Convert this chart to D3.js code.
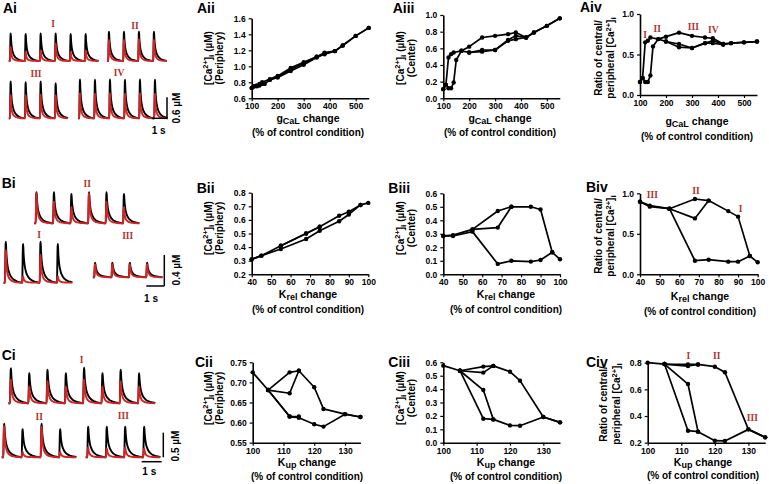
<!DOCTYPE html>
<html><head><meta charset="utf-8">
<script src="https://cdn.jsdelivr.net/npm/d3@7"></script>
<style>
html,body{margin:0;padding:0;background:#fff;}
svg{display:block;font-family:"Liberation Sans",Arial,sans-serif;}
</style></head><body>
<svg id="fig" width="769" height="484"></svg>
<script>
// ================= DATA =================
// Row A : g_CaL protocol (% of control condition)
const gcalUp   = [100,110,120,130,140,150,170,200,250,300,350,380,420,450,500,550];
const gcalDown = [550,500,450,420,380,350,300,250,200,170,140,130,120,110,100];
const gcalMid  = [200,250,300,350,380,420];
const periA_up   = [0.73,0.75,0.75,0.76,0.78,0.78,0.83,0.86,0.94,1.02,1.11,1.15,1.19,1.26,1.38,1.48];
const periA_down = [1.48,1.38,1.26,1.19,1.17,1.12,1.05,0.98,0.88,0.84,0.80,0.78,0.76,0.75,0.73];
const periA_mid  = [0.87,0.96,1.04,1.12,1.16,1.19];
const centA_up   = [0.11,0.16,0.12,0.12,0.19,0.46,0.57,0.55,0.56,0.58,0.69,0.71,0.73,0.79,0.87,0.96];
const centA_down = [0.96,0.87,0.79,0.73,0.79,0.77,0.75,0.73,0.62,0.57,0.55,0.53,0.49,0.16,0.11];
const centA_mid  = [0.55,0.58,0.58,0.70,0.75,0.73];
const ratioA_up   = [0.16,0.21,0.16,0.16,0.24,0.60,0.69,0.66,0.59,0.58,0.64,0.64,0.62,0.64,0.65,0.66];
const ratioA_down = [0.66,0.65,0.64,0.63,0.70,0.71,0.73,0.77,0.72,0.69,0.71,0.67,0.65,0.21,0.16];
const ratioA_mid  = [0.66,0.63,0.58,0.64,0.67,0.63];

// Row B : K_rel protocol
const krelDown = [100,96,90,85,75,68,55,45,40];
const krelUp   = [40,45,55,68,75,85,90,96];
const krelMid  = [55,68,75];
const periB_down = [0.725,0.71,0.66,0.63,0.55,0.50,0.41,0.337,0.31];
const periB_up   = [0.31,0.337,0.386,0.46,0.52,0.59,0.64,0.71];
const periB_mid  = [0.41,0.50,0.55];
const centB_down = [0.111,0.163,0.48,0.50,0.50,0.469,0.333,0.29,0.284];
const centB_up   = [0.284,0.284,0.316,0.077,0.10,0.094,0.106,0.163];
const centB_mid  = [0.333,0.346,0.50];
const ratioB_down = [0.148,0.226,0.712,0.78,0.91,0.93,0.81,0.848,0.897];
const ratioB_up   = [0.897,0.835,0.81,0.168,0.18,0.156,0.156,0.226];
const ratioB_mid  = [0.81,0.69,0.91];

// Row C : K_up protocol
const kupUp   = [100,105,112,115,120,123,130,135];
const kupDown = [135,130,123,120,115,112,105];
const kupMid1 = [105,112,115];
const kupMid2 = [105,112,115];
const periC_up   = [0.725,0.681,0.725,0.729,0.688,0.634,0.621,0.614];
const periC_down = [0.614,0.621,0.590,0.596,0.612,0.615,0.681];
const periC_mid1 = [0.681,0.673,0.729];
const periC_mid2 = [0.681,0.615,0.615];
const centC_up   = [0.575,0.537,0.568,0.573,0.530,0.463,0.192,0.152];
const centC_down = [0.152,0.192,0.127,0.129,0.174,0.179,0.537];
const centC_mid1 = [0.537,0.523,0.573];
const centC_mid2 = [0.537,0.393,0.174];
const ratioC_up   = [0.80,0.79,0.787,0.787,0.77,0.728,0.30,0.24];
const ratioC_down = [0.24,0.30,0.213,0.215,0.283,0.29,0.79];
const ratioC_mid1 = [0.79,0.775,0.787];
const ratioC_mid2 = [0.79,0.64,0.283];

// Tick labels
const ticksGcal = [100,200,300,400,500];
const ticksKrel = [40,50,60,70,80,90,100];
const ticksKup  = [100,110,120,130];
const ticksPeriA = [0.6,0.8,1.0,1.2,1.4,1.6];
const ticksCentA = [0.0,0.2,0.4,0.6,0.8,1.0];
const ticksRatioAB = [0.0,0.5,1.0];
const ticksPeriB = [0.2,0.3,0.4,0.5,0.6,0.7,0.8];
const ticksCentBC = [0.0,0.1,0.2,0.3,0.4,0.5,0.6];
const ticksPeriC = [0.55,0.60,0.65,0.70,0.75];
const ticksRatioC = [0.2,0.4,0.6,0.8];

// Calcium transients (one beat template, normalised) : time (s) and shape
const shapeT     = [0,0.015,0.035,0.05,0.07,0.10,0.14,0.20,0.28,0.38,0.50,0.65,0.82,1.0];
const shapeBlack = [0,0.45,0.95,1.0,0.78,0.58,0.42,0.29,0.19,0.12,0.07,0.035,0.012,0];
const shapeRed   = [0,0.50,0.97,1.0,0.68,0.45,0.29,0.17,0.10,0.055,0.028,0.011,0.004,0];
// beat onsets (s) and amplitudes (µM): black = periphery, red = center
const aI_beats = [0,1,2,3,4,5];          const aI_black = [0.79,0.77,0.79,0.79,0.77,0.77]; const aI_red = [0.40,0.25,0.30,0.50,0.25,0.30];
const aII_beats = [0,1,2,3];             const aII_black = [0.84,0.84,0.84,0.84];          const aII_red = [0.60,0.60,0.62,0.60];
const aIII_beats = [0,1,2,3];            const aIII_black = [1.05,1.03,1.05,1.0];          const aIII_red = [0.67,0.66,0.68,0.66];
const aIV_beats = [0,1,2,3,4,5];         const aIV_black = [1.11,1.10,1.11,1.10,1.11,1.10]; const aIV_red = [0.72,0.70,0.72,0.70,0.72,0.70];
const bII_beats = [0,0.97,1.94,2.92,3.89,4.86]; const bII_black = [0.40,0.40,0.38,0.40,0.40,0.38]; const bII_red = [0.39,0.28,0.21,0.39,0.28,0.21];
const bI_beats = [0,0.96,1.93,2.89];     const bI_black = [0.53,0.50,0.53,0.50];          const bI_red = [0.42,0.08,0.36,0.08];
const bIII_beats = [0,0.96,1.93,2.89];   const bIII_black = [0.19,0.19,0.19,0.19];        const bIII_red = [0.17,0.17,0.17,0.17];
const cI_beats = [0,0.92,1.83,2.75,3.66,4.58,5.49,6.41]; const cI_black = [0.71,0.61,0.68,0.61,0.72,0.61,0.68,0.61]; const cI_red = [0.48,0.34,0.45,0.34,0.48,0.34,0.45,0.34];
const cII_beats = [0,0.92,1.87,2.8];     const cII_black = [0.68,0.57,0.68,0.57];         const cII_red = [0.64,0.11,0.62,0.11];
const cIII_beats = [0,0.93,1.85,2.8];    const cIII_black = [0.62,0.62,0.62,0.62];        const cIII_red = [0.20,0.18,0.20,0.18];

// ================= DRAWING =================
const svg = d3.select("#fig");
const RED = "#d42323", LABRED = "#b5312d";

function yTitle(g, lines, xs, cy) {
  lines.forEach((ln, i) => {
    const t = g.append("text").attr("transform", `translate(${xs[i]},${cy}) rotate(-90)`)
      .attr("text-anchor", "middle").attr("font-size", 10).attr("font-weight", "bold");
    ln.forEach(seg => {
      const ts = t.append("tspan").text(seg.t);
      if (seg.s === "sup") ts.attr("dy", -3.5).attr("font-size", 7.5);
      if (seg.s === "back") ts.attr("dy", 3.5);
      if (seg.s === "sub") ts.attr("dy", 2).attr("font-size", 8);
      if (seg.s === "back2") ts.attr("dy", -2);
    });
  });
}
function xTitle(g, main, sub, rest, cx, y1, y2) {
  const t = g.append("text").attr("x", cx).attr("y", y1).attr("text-anchor", "middle")
    .attr("font-size", 10.5).attr("font-weight", "bold");
  t.append("tspan").text(main);
  t.append("tspan").text(sub).attr("dy", 2).attr("font-size", 9);
  t.append("tspan").text(rest).attr("dy", -2);
  g.append("text").attr("x", cx).attr("y", y2).attr("text-anchor", "middle")
    .attr("font-size", 10).attr("font-weight", "bold").text("(% of control condition)");
}

function linePanel(p) {
  const g = svg.append("g");
  const x = d3.scaleLinear().domain(p.xDomain).range(p.xRange);
  const y = d3.scaleLinear().domain(p.yDomain).range(p.yRange);
  const line = d3.line().x(d => x(d[0])).y(d => y(d[1]));
  p.series.forEach(s => {
    const pts = s[0].map((v, i) => [v, s[1][i]]);
    g.append("path").datum(pts).attr("d", line).attr("fill", "none")
      .attr("stroke", "#000").attr("stroke-width", 1.7).attr("stroke-linejoin", "round");
    g.selectAll(null).data(pts).enter().append("circle")
      .attr("cx", d => x(d[0])).attr("cy", d => y(d[1])).attr("r", 2.2).attr("fill", "#000");
  });
  const ax = g.append("g").attr("transform", `translate(0,${p.yRange[0]})`)
    .call(d3.axisBottom(x).tickValues(p.xTicks).tickSize(3).tickSizeOuter(0).tickPadding(2).tickFormat(d3.format("d")));
  const ay = g.append("g").attr("transform", `translate(${p.xRange[0]},0)`)
    .call(d3.axisLeft(y).tickValues(p.yTicks).tickSize(3).tickSizeOuter(0).tickPadding(3).tickFormat(d3.format(p.yFmt)));
  [ax, ay].forEach(a => {
    a.select(".domain").attr("stroke", "#000").attr("stroke-width", 1.6);
    a.selectAll(".tick line").attr("stroke", "#000").attr("stroke-width", 1.2);
    a.selectAll(".tick text").attr("font-size", 8.5).attr("font-weight", "bold")
      .attr("font-family", "Liberation Sans, Arial, sans-serif").attr("fill", "#000");
  });
  return g;
}

const caSeg = [{t:"[Ca"},{t:"2+",s:"sup"},{t:"]",s:"back"},{t:"i",s:"sub"}];
const ylCaPeri = [[...caSeg,{t:" (µM)",s:"back2"}],[{t:"(Periphery)"}]];
const ylCaCent = [[...caSeg,{t:" (µM)",s:"back2"}],[{t:"(Center)"}]];
const ylRatioA = [[{t:"Ratio of central/"}],[{t:"peripheral  [Ca"},{t:"2+",s:"sup"},{t:"]",s:"back"},{t:"i",s:"sub"}]];
const ylRatioB = [[{t:"Ratio of central/"}],[{t:"peripheral [Ca"},{t:"2+",s:"sup"},{t:"]",s:"back"},{t:"i",s:"sub"}]];

// ---- Row A
let g;
g = linePanel({xDomain:[100,550], xRange:[251.7,368.7], yDomain:[0.6,1.6], yRange:[98.3,18.3],
  xTicks:ticksGcal, yTicks:ticksPeriA, yFmt:".1f",
  series:[[gcalUp,periA_up],[gcalDown,periA_down],[gcalMid,periA_mid]]});
yTitle(g, ylCaPeri, [211.5,223], 58); xTitle(g, "g", "CaL", " change", 308, 122, 136);

g = linePanel({xDomain:[100,550], xRange:[443.3,559.8], yDomain:[0,1], yRange:[98.3,15],
  xTicks:ticksGcal, yTicks:ticksCentA, yFmt:".1f",
  series:[[gcalUp,centA_up],[gcalDown,centA_down],[gcalMid,centA_mid]]});
yTitle(g, ylCaCent, [403.5,415], 58); xTitle(g, "g", "CaL", " change", 500, 122, 136);

g = linePanel({xDomain:[100,550], xRange:[640,757], yDomain:[0,1], yRange:[95,14],
  xTicks:ticksGcal, yTicks:ticksRatioAB, yFmt:".1f",
  series:[[gcalUp,ratioA_up],[gcalDown,ratioA_down],[gcalMid,ratioA_mid]]});
yTitle(g, ylRatioA, [601.5,614], 58); xTitle(g, "g", "CaL", " change", 697, 125, 140);

// ---- Row B
g = linePanel({xDomain:[40,100], xRange:[251.7,368.3], yDomain:[0.2,0.8], yRange:[274.3,192.7],
  xTicks:ticksKrel, yTicks:ticksPeriB, yFmt:".1f",
  series:[[krelDown,periB_down],[krelUp,periB_up],[krelMid,periB_mid]]});
yTitle(g, ylCaPeri, [211.5,223], 228); xTitle(g, "K", "rel", "  change", 308, 298, 313);

g = linePanel({xDomain:[40,100], xRange:[443.3,560], yDomain:[0,0.6], yRange:[274.3,193.3],
  xTicks:ticksKrel, yTicks:ticksCentBC, yFmt:".1f",
  series:[[krelDown,centB_down],[krelUp,centB_up],[krelMid,centB_mid]]});
yTitle(g, ylCaCent, [403.5,415], 228); xTitle(g, "K", "rel", "  change", 506, 298, 313);

g = linePanel({xDomain:[40,100], xRange:[640,757.7], yDomain:[0,1], yRange:[274.3,193.3],
  xTicks:ticksKrel, yTicks:ticksRatioAB, yFmt:".1f",
  series:[[krelDown,ratioB_down],[krelUp,ratioB_up],[krelMid,ratioB_mid]]});
yTitle(g, ylRatioB, [601.5,614], 236); xTitle(g, "K", "rel", "  change", 700, 300, 315);

// ---- Row C
g = linePanel({xDomain:[100,135], xRange:[252.7,360.4], yDomain:[0.55,0.75], yRange:[442.7,362.3],
  xTicks:ticksKup, yTicks:ticksPeriC, yFmt:".2f",
  series:[[kupUp,periC_up],[kupDown,periC_down],[kupMid1,periC_mid1],[kupMid2,periC_mid2]]});
yTitle(g, ylCaPeri, [211.5,223], 398); xTitle(g, "K", "up", " change", 307, 466, 480);

g = linePanel({xDomain:[100,135], xRange:[443.3,560], yDomain:[0,0.6], yRange:[442.7,362.3],
  xTicks:ticksKup, yTicks:ticksCentBC, yFmt:".1f",
  series:[[kupUp,centC_up],[kupDown,centC_down],[kupMid1,centC_mid1],[kupMid2,centC_mid2]]});
yTitle(g, ylCaCent, [403.5,415], 398); xTitle(g, "K", "up", " change", 506, 466, 480);

g = linePanel({xDomain:[100,135], xRange:[647.7,765.2], yDomain:[0.2,0.8], yRange:[442.7,362.7],
  xTicks:ticksKup, yTicks:ticksRatioC, yFmt:".1f",
  series:[[kupUp,ratioC_up],[kupDown,ratioC_down],[kupMid1,ratioC_mid1],[kupMid2,ratioC_mid2]]});
yTitle(g, ylRatioB, [606.5,620], 404); xTitle(g, "K", "up", " change", 703, 466, 479);

// ---- Trace panels
function traceGroup(tg) {
  const tx = d3.scaleLinear().domain([0, 1]).range([tg.x0, tg.x0 + tg.pxs]);
  const ty = d3.scaleLinear().domain([0, 1]).range([tg.base, tg.base - tg.pxu]);
  const line = d3.line().x(d => tx(d[0])).y(d => ty(d[1])).curve(d3.curveMonotoneX);
  const build = (amps, V) => {
    const pts = [[-0.08, 0]];
    tg.beats.forEach((b, i) => {
      const next = i < tg.beats.length - 1 ? tg.beats[i + 1] : b + tg.tail;
      shapeT.forEach((t, j) => { if (b + t < next - 1e-6) pts.push([b + t, amps[i] * V[j]]); });
    });
    pts.push([tg.beats[tg.beats.length - 1] + tg.tail, 0]);
    return pts;
  };
  svg.append("path").datum(build(tg.black, shapeBlack)).attr("d", line).attr("fill", "none")
    .attr("stroke", "#000").attr("stroke-width", 1.9).attr("stroke-linejoin", "round");
  svg.append("path").datum(build(tg.red, shapeRed)).attr("d", line).attr("fill", "none")
    .attr("stroke", RED).attr("stroke-width", 1.9).attr("stroke-linejoin", "round");
}
traceGroup({beats:aI_beats, black:aI_black, red:aI_red, x0:10, base:61, pxs:15, pxu:35, tail:0.9});
traceGroup({beats:aII_beats, black:aII_black, red:aII_red, x0:108.3, base:61, pxs:15, pxu:35, tail:0.9});
traceGroup({beats:aIII_beats, black:aIII_black, red:aIII_red, x0:10, base:118.3, pxs:15, pxu:35, tail:0.85});
traceGroup({beats:aIV_beats, black:aIV_black, red:aIV_red, x0:79.3, base:118.3, pxs:15, pxu:35, tail:0.9});
traceGroup({beats:bII_beats, black:bII_black, red:bII_red, x0:35.7, base:223.3, pxs:18, pxu:77.5, tail:0.9});
traceGroup({beats:bI_beats, black:bI_black, red:bI_red, x0:5, base:282.7, pxs:18, pxu:77.5, tail:0.85});
traceGroup({beats:bIII_beats, black:bIII_black, red:bIII_red, x0:94.3, base:277.3, pxs:18, pxu:77.5, tail:0.9});
traceGroup({beats:cI_beats, black:cI_black, red:cI_red, x0:10, base:403.3, pxs:20, pxu:49.3, tail:0.85});
traceGroup({beats:cII_beats, black:cII_black, red:cII_red, x0:3.3, base:457.3, pxs:20, pxu:49.3, tail:0.85});
traceGroup({beats:cIII_beats, black:cIII_black, red:cIII_red, x0:87.3, base:457.3, pxs:20, pxu:49.3, tail:0.85});

// scale bars
function scaleBar(vx, vy0, vlen, hx0, hlen, hy, txt1, t1x, t1y, txt2, t2x, t2y) {
  svg.append("line").attr("x1", vx).attr("x2", vx).attr("y1", vy0).attr("y2", vy0 - vlen).attr("stroke", "#000").attr("stroke-width", 1.5);
  svg.append("line").attr("x1", hx0).attr("x2", hx0 + hlen).attr("y1", hy).attr("y2", hy).attr("stroke", "#000").attr("stroke-width", 1.5);
  svg.append("text").attr("x", t1x).attr("y", t1y).attr("text-anchor", "middle").attr("font-size", 10).attr("font-weight", "bold").text(txt1);
  svg.append("text").attr("transform", `translate(${t2x},${t2y}) rotate(-90)`).attr("text-anchor", "middle").attr("font-size", 10).attr("font-weight", "bold").text(txt2);
}
scaleBar(167, 118.3, 0.6 * 35, 152, 15, 118.3, "1 s", 158.7, 134, "0.6 µM", 180, 108);
scaleBar(164.3, 286, 0.4 * 77.5, 146.3, 18, 286, "1 s", 151, 302, "0.4 µM", 180, 270);
scaleBar(163.3, 457.3, 0.5 * 49.3, 141.7, 20, 461.7, "1 s", 149.3, 474.5, "0.5 µM", 178.5, 446);

// Roman numeral annotations
const romanText = ["I","II","III","IV","II","I","III","I","II","III","I","II","III","IV","III","II","I","I","II","III"];
const romanPos = [[53,27],[135,29],[36,77],[119,76],[87.3,187],[39,237.5],[127.7,238.5],[81.7,363],[39.3,420],[123.3,419],
  [645,37.7],[657.3,31.7],[693.3,29.5],[713.3,32.7],[652.3,198.3],[696,194.3],[740.7,211.7],[688.3,359],[716.7,359],[752.3,421]];
romanText.forEach((t, i) => svg.append("text").attr("x", romanPos[i][0]).attr("y", romanPos[i][1])
  .attr("text-anchor", "middle").attr("font-family", "Liberation Serif, Times New Roman, serif")
  .attr("font-size", 9.5).attr("font-weight", "bold").attr("fill", LABRED).text(t));

// Panel labels
const panelText = ["Ai","Aii","Aiii","Aiv","Bi","Bii","Biii","Biv","Ci","Cii","Ciii","Civ"];
const panelPos = [[3,13],[197,13.3],[392.7,13],[580,12],[1.7,188.3],[196.7,193.3],[388.3,193.3],[586,191.7],[1.7,360],[195,366.7],[388.3,366.7],[586,366.7]];
panelText.forEach((t, i) => svg.append("text").attr("x", panelPos[i][0]).attr("y", panelPos[i][1])
  .attr("font-size", 14).attr("font-weight", "bold").text(t));
</script>
</body></html>
